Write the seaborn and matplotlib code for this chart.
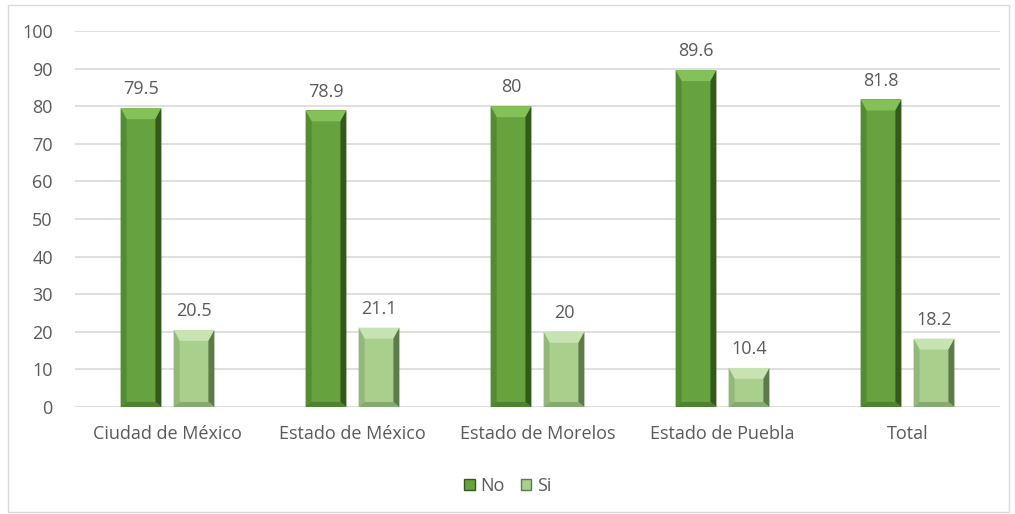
import matplotlib
matplotlib.use("Agg")
import matplotlib.pyplot as plt
import seaborn as sns
import pandas as pd
from matplotlib.patches import Rectangle, Patch

# Data
categories = ["Ciudad de México", "Estado de México", "Estado de Morelos",
              "Estado de Puebla", "Total"]
no_values = [79.5, 78.9, 80, 89.6, 81.8]
si_values = [20.5, 21.1, 20, 10.4, 18.2]
series_names = ["No", "Si"]

df = pd.DataFrame({
    "categoria": categories * 2,
    "valor": no_values + si_values,
    "respuesta": [series_names[0]] * len(categories) + [series_names[1]] * len(categories),
})

# Face colors plus bevel shades (top, left, right, bottom)
palette = {"No": "#66a23e", "Si": "#a8cf8c"}
bevel = {
    "No": {"top": "#84c158", "left": "#548c31", "right": "#34591d", "bottom": "#4e8230"},
    "Si": {"top": "#c6e3b1", "left": "#93b979", "right": "#5d7b4a", "bottom": "#88aa72"},
}

sns.set_theme(style="white")
plt.rcParams["font.family"] = ["Open Sans", "DejaVu Sans"]
text_color = "#595959"
grid_color = "#d9d9d9"

W, H = 1015, 514
fig = plt.figure(figsize=(W / 100, H / 100), dpi=100)
ax_left, ax_right, ax_top, ax_bottom = 75, 1000, 31, 407
ax = fig.add_axes([ax_left / W, 1 - ax_bottom / H,
                   (ax_right - ax_left) / W, (ax_bottom - ax_top) / H])

sns.barplot(data=df, x="categoria", y="valor", hue="respuesta", order=categories,
            hue_order=series_names, palette=palette, width=0.573, gap=0.23,
            saturation=1, ax=ax, legend=False, zorder=3, linewidth=0)

ax.set_ylim(0, 100)
ax.set_xlim(-0.5, len(categories) - 0.5)
ax.set_yticks(range(0, 101, 10))
ax.yaxis.grid(True, color=grid_color, linewidth=1.2, zorder=0)
ax.set_axisbelow(True)
for s in ax.spines.values():
    s.set_visible(False)
ax.tick_params(axis="both", length=0, labelsize=13, colors=text_color)
ax.tick_params(axis="y", pad=16)
ax.tick_params(axis="x", pad=13)
ax.set_xlabel("")
ax.set_ylabel("")

# Bevel shading derived from each bar's own geometry
px_x = len(categories) / (ax_right - ax_left)   # data units per pixel along x
px_y = 100.0 / (ax_bottom - ax_top)             # data units per pixel along y
side, top, bottom = 6, 11, 5
for container, name in zip(ax.containers, series_names):
    shades = bevel[name]
    for bar in container:
        x0, y0 = bar.get_x(), bar.get_y()
        w, h = bar.get_width(), bar.get_height()
        x1, y1 = x0 + w, y0 + h
        dx = side * px_x
        dt = min(top * px_y, h / 2)
        db = min(bottom * px_y, h / 4)
        ax.fill([x0, x1, x1 - dx, x0 + dx], [y1, y1, y1 - dt, y1 - dt],
                color=shades["top"], zorder=4, lw=0)
        ax.fill([x0, x0 + dx, x0 + dx, x0], [y1, y1 - dt, y0 + db, y0],
                color=shades["left"], zorder=4, lw=0)
        ax.fill([x1, x1 - dx, x1 - dx, x1], [y1, y1 - dt, y0 + db, y0],
                color=shades["right"], zorder=4, lw=0)
        ax.fill([x0, x0 + dx, x1 - dx, x1], [y0, y0 + db, y0 + db, y0],
                color=shades["bottom"], zorder=4, lw=0)
    ax.bar_label(container, labels=[f"{v:g}" for v in container.datavalues],
                 padding=7, fontsize=13, color=text_color)

# Legend
handles = [Patch(facecolor=palette[n], edgecolor=bevel[n]["right"], linewidth=1)
           for n in series_names]
fig.legend(handles, series_names, loc="center", bbox_to_anchor=(0.5, 1 - 486 / H),
           ncol=2, frameon=False, fontsize=13, labelcolor=text_color,
           handlelength=0.6, handleheight=0.6, handletextpad=0.3, columnspacing=0.9)

# Chart area border
fig.patches.append(Rectangle((8 / W, 2 / H), 1001 / W, 507 / H,
                             transform=fig.transFigure, fill=False,
                             edgecolor=grid_color, linewidth=1))

fig.savefig("out.png", dpi=100)
